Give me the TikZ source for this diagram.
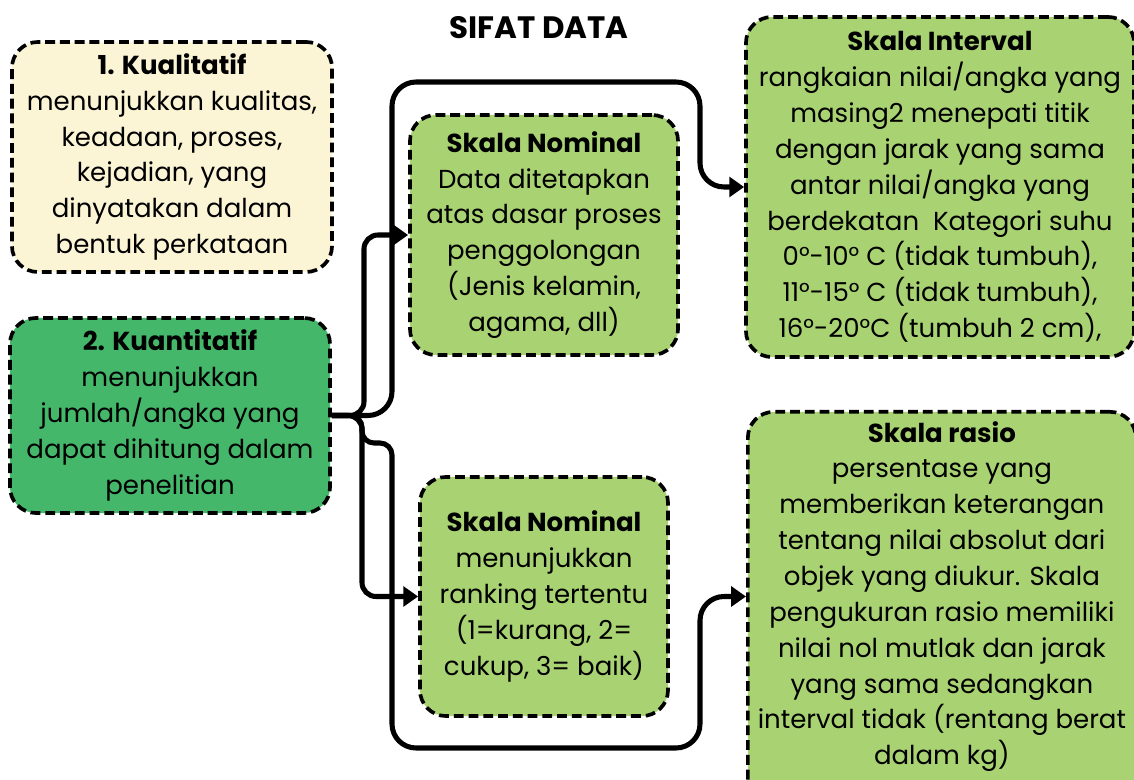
\documentclass[tikz,border=0pt]{standalone}
\usepackage{fontspec}
\setmainfont{Poppins}
\usepackage{xcolor}
\usetikzlibrary{arrows.meta, positioning}

\definecolor{cream}{HTML}{FBF5D6}
\definecolor{darkgreen}{HTML}{44B76A}
\definecolor{lightgreen}{HTML}{A9D373}

\begin{document}
\begin{tikzpicture}[x=0.025cm, y=-0.025cm, >={Triangle[length=10.5pt, width=14pt]},
    box/.style={draw, rounded corners=0.65cm, line width=2.6pt,
                dash pattern=on 7pt off 3.5pt, align=center, inner sep=0pt,
                font=\fontsize{18.5}{25.5}\selectfont},
    conn/.style={->, line width=3.6pt, rounded corners=0.35cm}]
  \clip (0,0) rectangle (1134,780);
  \node[font=\fontsize{22}{26}\selectfont\bfseries] (title) at (539,28) {SIFAT DATA};
  % left column
  \node[box, fill=cream, minimum width=8cm, minimum height=5.75cm] (kual) at (172,157)
    {\textbf{1. Kualitatif}\\menunjukkan kualitas,\\keadaan, proses,\\kejadian, yang\\dinyatakan dalam\\bentuk perkataan};
  \node[box, fill=darkgreen, minimum width=8cm, minimum height=4.875cm] (kuan) at (170,415.5)
    {\textbf{2. Kuantitatif}\\menunjukkan\\jumlah/angka yang\\dapat dihitung dalam\\penelitian};
  % middle column
  \node[box, fill=lightgreen, minimum width=6.7cm, minimum height=6cm] (nom1) at (544,235)
    {\textbf{Skala Nominal}\\Data ditetapkan\\atas dasar proses\\penggolongan\\(Jenis kelamin,\\agama, dll)};
  \node[box, fill=lightgreen, minimum width=6.2cm, minimum height=5.975cm] (nom2) at (544,596.5)
    {\textbf{Skala Nominal}\\menunjukkan\\ranking tertentu\\(1=kurang, 2=\\cukup, 3= baik)};
  % right column
  \node[box, fill=lightgreen, minimum width=9.7cm, minimum height=8.5cm] (intv) at (940,187)
    {\textbf{Skala Interval}\\rangkaian nilai/angka yang\\masing2 menepati titik\\dengan jarak yang sama\\antar nilai/angka yang\\berdekatan\ \ Kategori suhu\\0°-10° C (tidak tumbuh),\\11°-15° C (tidak tumbuh),\\16°-20°C (tumbuh 2 cm),};
  \node[box, fill=lightgreen, minimum width=9.7cm, minimum height=10.5cm, anchor=north west] (rasio) at (746,410)
    {\textbf{Skala rasio}\\persentase yang\\memberikan keterangan\\tentang nilai absolut dari\\objek yang diukur. Skala\\pengukuran rasio memiliki\\nilai nol mutlak dan jarak\\yang sama sedangkan\\interval tidak (rentang berat\\dalam kg)\\[0.55cm]};
  % connectors
  \draw[conn] (kuan.east) -| (364,300) |- (nom1.west);
  \draw[conn, rounded corners=0.6cm] (kuan.east) -| (392,82) -| (700,187) -- (intv.west);
  \draw[conn] (kuan.east) -| (362,520) |- (nom2.west);
  \draw[conn, rounded corners=0.3cm] (kuan.east) -| (362,443) -| (392,600)
    [rounded corners=0.6cm] |- (700,748) |- (rasio.west |- nom2.west);
\end{tikzpicture}
\end{document}
